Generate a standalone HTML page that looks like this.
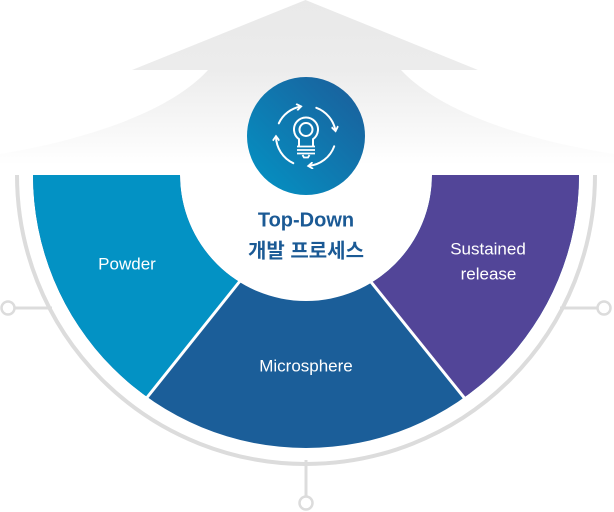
<!DOCTYPE html>
<html>
<head>
<meta charset="utf-8">
<style>
  html,body{margin:0;padding:0;background:#fff;}
  body{width:614px;height:512px;overflow:hidden;}
  svg{display:block;}
</style>
</head>
<body>
<svg width="614" height="512" viewBox="0 0 614 512" xmlns="http://www.w3.org/2000/svg">
  <defs>
    <linearGradient id="arrowG" x1="0" y1="0" x2="0" y2="165" gradientUnits="userSpaceOnUse">
      <stop offset="0" stop-color="#e9e9e9"/>
      <stop offset="0.42" stop-color="#ececec"/>
      <stop offset="0.7" stop-color="#f5f5f5"/>
      <stop offset="1" stop-color="#ffffff"/>
    </linearGradient>
    <linearGradient id="circG" x1="0" y1="1" x2="1" y2="0">
      <stop offset="0" stop-color="#0394c5"/>
      <stop offset="1" stop-color="#1c5c99"/>
    </linearGradient>
    <clipPath id="donut">
      <path d="M 33 175 A 273 273 0 0 0 579 175 L 432 175 A 126 126 0 0 1 180 175 Z"/>
    </clipPath>
    <marker id="ah" viewBox="0 0 10 10" refX="7" refY="5" markerWidth="7" markerHeight="7" orient="auto" markerUnits="userSpaceOnUse">
      <path d="M2,1 L7.5,5 L2,9" fill="none" stroke="#fff" stroke-width="2.6" stroke-linecap="square"/>
    </marker>
  </defs>

  <!-- background arrow -->
  <path d="M 305.5 0 L 478 70 L 401 70 C 440 112, 525 140, 614 154 L 614 180 L 0 180 L 0 154 C 85 140, 170 112, 208 70 L 132 70 Z" fill="url(#arrowG)"/>

  <!-- outer gray arc -->
  <path d="M 17 175 A 289 289 0 0 0 595 175" fill="none" stroke="#dcdcdc" stroke-width="4"/>

  <!-- connectors -->
  <line x1="14" y1="308" x2="52" y2="308" stroke="#dcdcdc" stroke-width="3"/>
  <circle cx="8" cy="308" r="6.5" fill="#fff" stroke="#dcdcdc" stroke-width="2.5"/>
  <line x1="560" y1="308" x2="598" y2="308" stroke="#dcdcdc" stroke-width="3"/>
  <circle cx="604" cy="308" r="6.5" fill="#fff" stroke="#dcdcdc" stroke-width="2.5"/>
  <line x1="306" y1="460" x2="306" y2="497" stroke="#dcdcdc" stroke-width="3"/>
  <circle cx="306" cy="503" r="6.5" fill="#fff" stroke="#dcdcdc" stroke-width="2.5"/>

  <!-- donut segments -->
  <g clip-path="url(#donut)">
    <rect x="0" y="170" width="614" height="300" fill="#1b5e99"/>
    <polygon points="0,175 325,175 49,520 0,520" fill="#0392c4"/>
    <polygon points="614,175 285,175 563,520 614,520" fill="#524598"/>
  </g>
  <line x1="250" y1="268.5" x2="145" y2="400" stroke="#fff" stroke-width="3"/>
  <line x1="361" y1="269.5" x2="466" y2="400" stroke="#fff" stroke-width="3"/>

  <!-- center circle -->
  <circle cx="306" cy="136" r="59" fill="url(#circG)"/>

  <!-- icon: circular arrows -->
  <g fill="none" stroke="#fff" stroke-width="2" stroke-linecap="round">
    <path d="M 278.8 123.3 A 30 30 0 0 1 300.8 106.5" marker-end="url(#ah)"/>
    <path d="M 316.3 107.8 A 30 30 0 0 1 335.5 130.8" marker-end="url(#ah)"/>
    <path d="M 334.2 146.3 A 30 30 0 0 1 308.6 165.9" marker-end="url(#ah)"/>
    <path d="M 293.3 163.2 A 30 30 0 0 1 276 136.5" marker-end="url(#ah)"/>
  </g>
  <!-- icon: bulb -->
  <g fill="none" stroke="#fff" stroke-width="2">
    <path d="M 299 146 L 299 139.2 A 12 12 0 1 1 313 139.2 L 313 146"/>
    <circle cx="306" cy="129.5" r="6.5"/>
    <path d="M 297 146.5 H 315 M 297 150 H 315 M 297 153.5 H 315" stroke-width="1.8"/>
    <path d="M 302.5 155 L 304 157.5 H 308 L 309.5 155" stroke-width="1.8"/>
  </g>

  <!-- title -->
  <text x="306" y="226.7" text-anchor="middle" font-family="'Liberation Sans', sans-serif" font-weight="bold" font-size="20" fill="#1b5a95">Top-Down</text>
  <text x="306" y="257.5" text-anchor="middle" font-family="'Liberation Sans', 'Noto Sans CJK KR', sans-serif" font-weight="bold" font-size="20" fill="#1b5a95">개발 프로세스</text>

  <!-- labels -->
  <g font-family="'Liberation Sans', sans-serif" font-size="17" fill="#fff" text-anchor="middle">
    <text x="127" y="269.3">Powder</text>
    <text x="306" y="371.7">Microsphere</text>
    <text x="488" y="254.3">Sustained</text>
    <text x="488.5" y="279.3">release</text>
  </g>
</svg>
</body>
</html>
